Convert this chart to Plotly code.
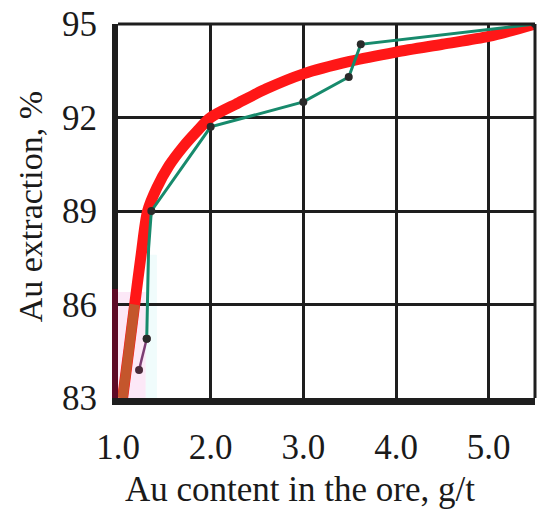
import plotly.graph_objects as go

# Smoothed trend (red)
trend_x = [1.05, 1.12, 1.18, 1.25, 1.32, 1.42, 1.55, 1.70, 1.85, 2.0, 2.3, 2.6, 3.0, 3.5, 4.0, 4.5, 5.0, 5.5]
trend_y = [83.0, 84.6, 86.0, 87.6, 89.0, 89.75, 90.45, 91.05, 91.55, 92.0, 92.47, 92.92, 93.4, 93.8, 94.1, 94.35, 94.6, 95.0]

# Measured data (green)
meas_x = [1.31, 1.33, 1.36, 2.0, 3.0, 3.49, 3.62, 5.5]
meas_y = [84.9, 87.8, 89.0, 91.7, 92.5, 93.3, 94.35, 95.0]

# Low segment (purple)
low_x = [1.227, 1.31]
low_y = [83.9, 84.9]

x_ticks = [1, 2, 3, 4, 5]
x_labels = ["1.0", "2.0", "3.0", "4.0", "5.0"]
y_ticks = [83, 86, 89, 92, 95]
y_labels = ["83", "86", "89", "92", "95"]

FONT = "Liberation Serif"
INK = "#1e1e1e"

fig = go.Figure()
fig.add_trace(go.Scatter(x=trend_x, y=trend_y, mode="lines",
                         line=dict(color="#ff1717", width=11, shape="spline", smoothing=0.8),
                         hoverinfo="skip", showlegend=False))
fig.add_trace(go.Scatter(x=trend_x[:3], y=trend_y[:3], mode="lines",
                         line=dict(color="#c4562c", width=10, shape="spline", smoothing=0.8),
                         hoverinfo="skip", showlegend=False))
fig.add_trace(go.Scatter(x=low_x, y=low_y, mode="lines+markers",
                         line=dict(color="#7b3d73", width=2.5),
                         marker=dict(color="#4a2a3a", size=8), showlegend=False))
fig.add_trace(go.Scatter(x=meas_x, y=meas_y, mode="lines",
                         line=dict(color="#178a6c", width=3), showlegend=False))
mx = [meas_x[0]] + meas_x[2:]
my = [meas_y[0]] + meas_y[2:]
fig.add_trace(go.Scatter(x=mx, y=my, mode="markers",
                         marker=dict(color="#2a2a2a", size=8), showlegend=False))

fig.update_layout(
    width=542, height=513,
    margin=dict(l=110, r=15, t=16, b=123, autoexpand=False),
    paper_bgcolor="white", plot_bgcolor="white",
    font=dict(family=FONT, size=35, color="#1a1a1a"),
    xaxis=dict(range=[1.0, 5.5], tickvals=x_ticks, ticktext=x_labels,
               showgrid=True, gridcolor=INK, gridwidth=3,
               showline=True, linecolor=INK, linewidth=7,
               ticks="outside", ticklen=12, tickcolor="rgba(0,0,0,0)",
               ticklabeloverflow="allow", automargin=False,
               zeroline=False, tickfont=dict(size=35)),
    yaxis=dict(range=[83, 95], tickvals=y_ticks, ticktext=y_labels,
               showgrid=True, gridcolor=INK, gridwidth=3,
               showline=True, linecolor=INK, linewidth=6,
               ticks="outside", ticklen=8, tickcolor="rgba(0,0,0,0)",
               ticklabeloverflow="allow", automargin=False,
               zeroline=False, tickfont=dict(size=35)),
    shapes=[
        dict(type="rect", xref="x", yref="y", x0=1.0, x1=1.3, y0=83, y1=86.4,
             fillcolor="#fce8f7", line=dict(width=0), layer="below"),
        dict(type="rect", xref="x", yref="y", x0=1.3, x1=1.42, y0=83, y1=87.6,
             fillcolor="#f0fcfc", line=dict(width=0), layer="below"),
        dict(type="line", xref="paper", yref="y", x0=-0.0072, x1=-0.0072, y0=83, y1=86.5,
             line=dict(color="#5e0a26", width=6)),
        dict(type="line", xref="paper", yref="paper", x0=0, x1=1, y0=1, y1=1,
             line=dict(color=INK, width=3)),
        dict(type="line", xref="paper", yref="paper", x0=1, x1=1, y0=0, y1=1,
             line=dict(color=INK, width=3)),
    ],
    annotations=[
        dict(text="Au content in the ore, g/t", xref="paper", yref="paper",
             x=0.436, y=-0.245, showarrow=False, font=dict(size=35),
             xanchor="center", yanchor="middle"),
        dict(text="Au extraction, %", xref="paper", yref="paper",
             x=-0.211, y=0.51, showarrow=False, textangle=-90, font=dict(size=34),
             xanchor="center", yanchor="middle"),
    ],
)

fig.write_html("out.html")
